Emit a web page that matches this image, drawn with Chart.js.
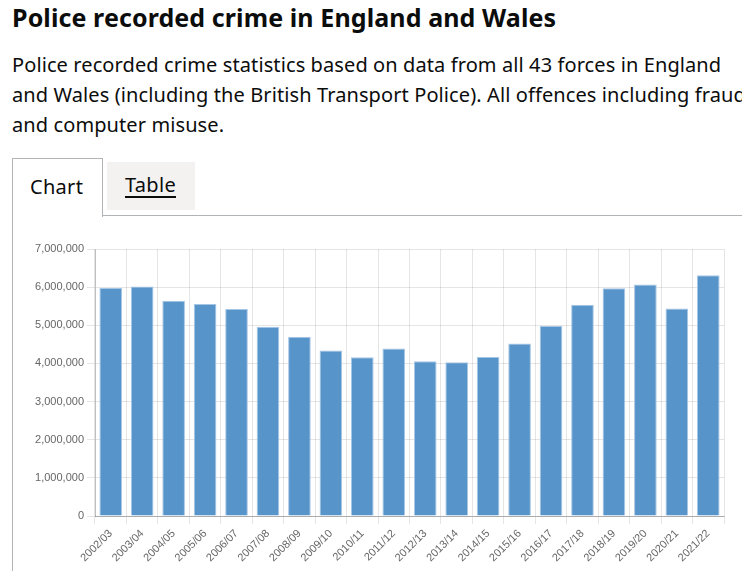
<!DOCTYPE html>
<html>
<head>
<meta charset="utf-8">
<script src="https://cdn.jsdelivr.net/npm/chart.js@4/dist/chart.umd.min.js"></script>
<style>
  html, body { margin: 0; padding: 0; background: #fff; overflow: hidden; }
  body { width: 742px; height: 571px; position: relative; font-family: "Noto Sans", Arial, sans-serif; color: #0b0c0c; }
  h1 { position: absolute; left: 12px; top: 0; margin: 0; font-size: 25px; line-height: 34px; font-weight: 700; white-space: nowrap; letter-spacing: 0.1px; }
  p.lead { position: absolute; left: 12px; top: 50px; margin: 0; font-size: 20px; line-height: 30px; white-space: nowrap; letter-spacing: 0.1px; }
  .tab-chart { position: absolute; left: 12px; top: 158px; width: 89px; height: 58px; border: 1px solid #b1b4b6; border-bottom: none; background: #fff; font-size: 20px; letter-spacing: 0.3px; z-index: 2; }
  .tab-chart span { position: absolute; left: 17px; top: 14px; }
  .tab-table { position: absolute; left: 107px; top: 162px; width: 88px; height: 48px; background: #f3f2f1; font-size: 20px; letter-spacing: 0.3px; }
  .tab-table span { position: absolute; left: 18px; top: 9px; text-decoration: underline; text-decoration-thickness: 2px; text-underline-offset: 4px; }
  .rule { position: absolute; left: 102px; top: 215px; width: 640px; height: 1px; background: #b1b4b6; }
  .panel { position: absolute; left: 12px; top: 215px; width: 1px; height: 400px; background: #b1b4b6; }
  .chart-box { position: absolute; left: 13px; top: 230px; width: 729px; height: 341px; }
</style>
</head>
<body>
<h1>Police recorded crime in England and Wales</h1>
<p class="lead">Police recorded crime statistics based on data from all 43 forces in England<br>and Wales (including the British Transport Police). All offences including fraud<br>and computer misuse.</p>
<div class="tab-chart"><span>Chart</span></div>
<div class="tab-table"><span>Table</span></div>
<div class="rule"></div>
<div class="panel"></div>
<div class="chart-box"><canvas id="crimeChart"></canvas></div>
<script>
const years = ['2002/03', '2003/04', '2004/05', '2005/06', '2006/07', '2007/08', '2008/09', '2009/10', '2010/11', '2011/12',
  '2012/13', '2013/14', '2014/15', '2015/16', '2016/17', '2017/18', '2018/19', '2019/20', '2020/21', '2021/22'];
const offences = [5980000, 6020000, 5640000, 5560000, 5430000, 4960000, 4700000, 4340000, 4160000, 4390000,
  4060000, 4030000, 4170000, 4520000, 4980000, 5540000, 5970000, 6070000, 5440000, 6310000];
const yMax = 7000000;
const yStep = 1000000;

const tickFont = { family: '"Liberation Sans", Arial, sans-serif', size: 11 };

new Chart(document.getElementById('crimeChart'), {
  type: 'bar',
  data: {
    labels: years,
    datasets: [{
      label: 'Offences',
      data: offences,
      backgroundColor: '#5794ca',
      borderColor: '#a6c6e5',
      borderWidth: 1,
    }]
  },
  options: {
    responsive: true,
    maintainAspectRatio: false,
    animation: false,
    layout: { padding: { top: 19, right: 18, left: 0, bottom: 0 } },
    plugins: {
      legend: { display: false },
      tooltip: { enabled: false },
    },
    scales: {
      x: {
        grid: { color: 'rgba(0,0,0,0.1)', tickLength: 8 },
        border: { color: 'rgba(0,0,0,0.25)' },
        ticks: { color: '#666', font: tickFont, maxRotation: 45, minRotation: 45, autoSkip: false },
        afterFit: (scale) => { scale.height = 55; },
      },
      y: {
        min: 0,
        max: yMax,
        grid: { color: 'rgba(0,0,0,0.1)', tickLength: 8 },
        border: { color: 'rgba(0,0,0,0.25)' },
        ticks: {
          stepSize: yStep,
          color: '#666',
          font: tickFont,
          callback: (v) => v.toLocaleString('en-GB'),
        },
        afterFit: (scale) => { scale.width = 82; },
      }
    }
  }
});
</script>
</body>
</html>
